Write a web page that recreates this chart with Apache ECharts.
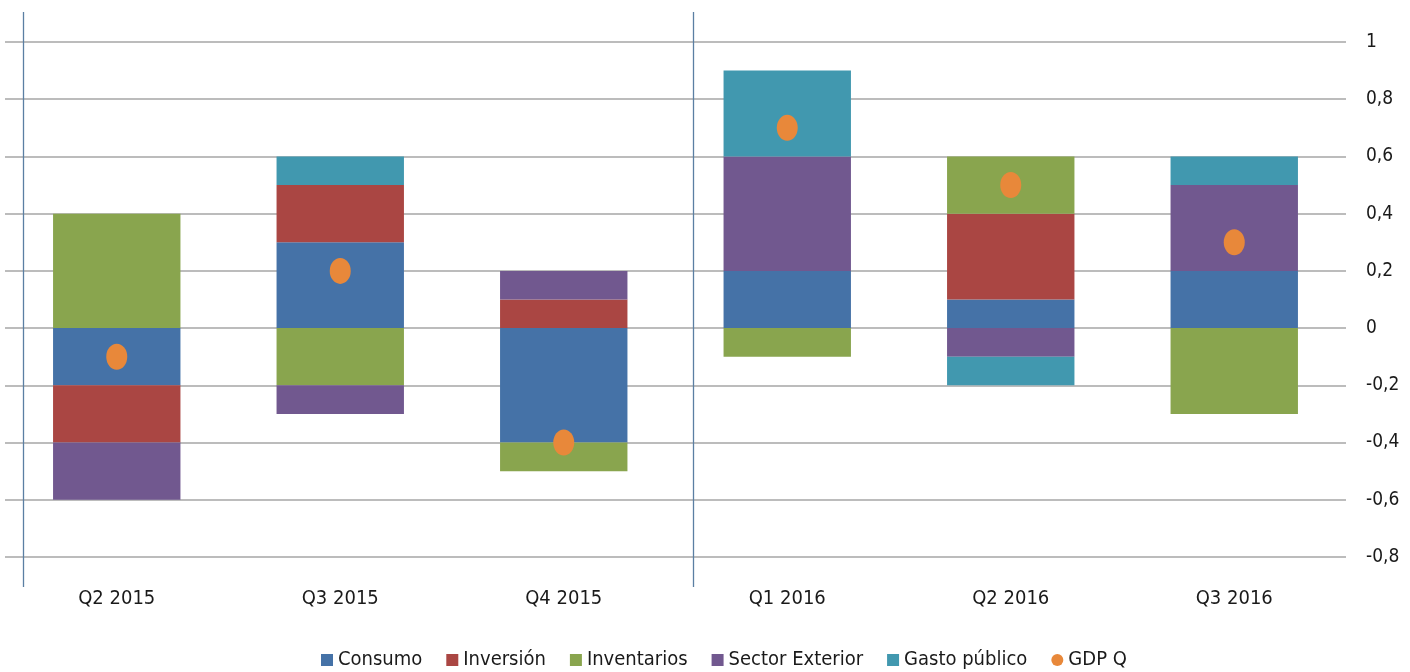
<!DOCTYPE html>
<html>
<head>
<meta charset="utf-8">
<script src="https://cdn.jsdelivr.net/npm/echarts@6/dist/echarts.min.js"></script>
<style>
html,body{margin:0;padding:0;background:#fff;}
#chart{width:1410px;height:672px;}
</style>
</head>
<body>
<div id="chart"></div>
<script>
const categories = ['Q2 2015', 'Q3 2015', 'Q4 2015', 'Q1 2016', 'Q2 2016', 'Q3 2016'];
const consumo        = [-0.2, 0.3, -0.4, 0.2, 0.1, 0.2];
const inversion      = [-0.2, 0.2, 0.1, 0, 0.3, 0];
const inventarios    = [0.4, -0.2, -0.1, -0.1, 0.2, -0.3];
const sectorExterior = [-0.2, -0.1, 0.1, 0.4, -0.1, 0.3];
const gastoPublico   = [0, 0.1, 0, 0.3, -0.1, 0.1];
const gdpQ           = [-0.1, 0.2, -0.4, 0.7, 0.5, 0.3];
const yTicks = { min: -0.8, max: 1, interval: 0.2 };
const dividerPositions = [-0.424, 2.576];

const FONT = '"Liberation Sans Narrow", "DejaVu Sans Condensed", "Liberation Sans", sans-serif';
const colors = {
  consumo: '#4572a7',
  inversion: '#aa4643',
  inventarios: '#89a54e',
  sector: '#71588f',
  gasto: '#4198af',
  gdp: '#e8883a'
};

function barSeries(name, data, color) {
  return {
    name: name,
    type: 'bar',
    stack: 'total',
    data: data,
    barWidth: '57%',
    itemStyle: { color: color },
    xAxisIndex: 0,
    yAxisIndex: 0,
    emphasis: { disabled: true }
  };
}

const chart = echarts.init(document.getElementById('chart'));
chart.setOption({
  animation: false,
  backgroundColor: '#ffffff',
  grid: [
    { left: 5, right: 64, top: 42, bottom: 115 },
    { left: 5, right: 64, top: 12, bottom: 85 }
  ],
  legend: {
    bottom: -3,
    left: 316,
    itemWidth: 12,
    itemHeight: 12,
    itemGap: 24,
    textStyle: { fontFamily: FONT, fontSize: 20, color: '#1a1a1a' },
    data: [
      { name: 'Consumo', icon: 'rect' },
      { name: 'Inversión', icon: 'rect' },
      { name: 'Inventarios', icon: 'rect' },
      { name: 'Sector Exterior', icon: 'rect' },
      { name: 'Gasto público', icon: 'rect' },
      { name: 'GDP Q', icon: 'circle', itemStyle: { opacity: 1 } }
    ]
  },
  xAxis: [
    {
      type: 'category',
      gridIndex: 0,
      data: categories,
      axisLine: { show: false },
      axisTick: { show: false },
      axisLabel: { fontFamily: FONT, fontSize: 20, color: '#1a1a1a', margin: 32 }
    },
    {
      type: 'value',
      gridIndex: 1,
      min: -0.5,
      max: 5.5,
      show: false
    }
  ],
  yAxis: [
    {
      type: 'value',
      gridIndex: 0,
      position: 'right',
      min: yTicks.min,
      max: yTicks.max,
      interval: yTicks.interval,
      axisLine: { show: false },
      axisTick: { show: false },
      splitLine: { lineStyle: { color: '#a6a6a6', width: 1.6 } },
      axisLabel: {
        fontFamily: FONT,
        fontSize: 19,
        color: '#1a1a1a',
        margin: 20,
        formatter: function (v) {
          const r = Math.round(v * 10) / 10;
          return String(r).replace('.', ',');
        }
      }
    },
    {
      type: 'value',
      gridIndex: 1,
      min: 0,
      max: 1,
      show: false
    }
  ],
  series: [
    barSeries('Consumo', consumo, colors.consumo),
    barSeries('Inversión', inversion, colors.inversion),
    barSeries('Inventarios', inventarios, colors.inventarios),
    barSeries('Sector Exterior', sectorExterior, colors.sector),
    barSeries('Gasto público', gastoPublico, colors.gasto),
    {
      name: 'GDP Q',
      type: 'scatter',
      data: gdpQ,
      xAxisIndex: 0,
      yAxisIndex: 0,
      symbol: 'circle',
      symbolSize: [21, 26],
      itemStyle: { color: colors.gdp, opacity: 1 },
      z: 5,
      emphasis: { disabled: true }
    },
    {
      name: 'dividers',
      type: 'line',
      xAxisIndex: 1,
      yAxisIndex: 1,
      data: [],
      silent: true,
      markLine: {
        silent: true,
        symbol: 'none',
        label: { show: false },
        lineStyle: { color: '#5b7fa3', width: 1.3, type: 'solid' },
        emphasis: { disabled: true },
        data: dividerPositions.map(function (p) { return { xAxis: p }; })
      }
    }
  ]
});
</script>
</body>
</html>
